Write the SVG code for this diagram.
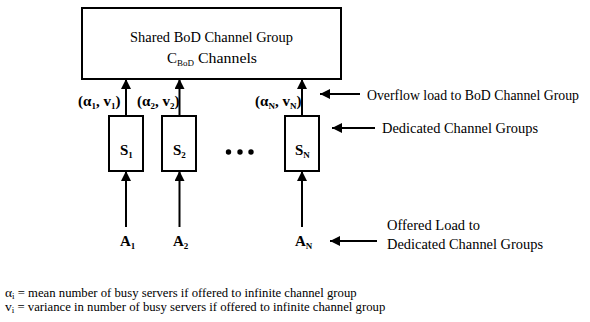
<svg xmlns="http://www.w3.org/2000/svg" width="590" height="322" viewBox="0 0 590 322" font-family="'Liberation Serif', 'Times New Roman', 'DejaVu Serif', serif">
  <style>
    .box { fill: #fff; stroke: #000; stroke-width: 2; }
    .ln { fill: none; stroke: #000; stroke-width: 2; }
    text { fill: #000; }
    .t { font-size: 15px; }
    .lg { font-size: 13.5px; }
    .b { font-size: 15px; font-weight: bold; }
    .sub { font-size: 9px; }
  </style>
  <defs>
    <marker id="ah" markerWidth="10" markerHeight="10" refX="10" refY="5" orient="auto" markerUnits="userSpaceOnUse">
      <path d="M0,0 L10,5 L0,10 Z" fill="#000"/>
    </marker>
  </defs>

  <!-- shared channel group -->
  <g id="shared">
    <rect class="box" x="82" y="8" width="259" height="71"/>
    <text class="t" x="211.5" y="42" text-anchor="middle" textLength="163" lengthAdjust="spacingAndGlyphs">Shared BoD Channel Group</text>
    <text class="t" x="167" y="63">C<tspan class="sub" dy="3">BoD</tspan><tspan dy="-3" textLength="63" lengthAdjust="spacingAndGlyphs"> Channels</tspan></text>
  </g>

  <!-- dedicated groups -->
  <g id="s1">
    <rect class="box" x="109" y="116" width="34" height="55"/>
    <text class="b" x="120" y="155">S<tspan class="sub" dy="3">1</tspan></text>
  </g>
  <g id="s2">
    <rect class="box" x="162" y="116" width="34" height="55"/>
    <text class="b" x="173" y="155">S<tspan class="sub" dy="3">2</tspan></text>
  </g>
  <g id="sn">
    <rect class="box" x="285" y="116" width="34" height="55"/>
    <text class="b" x="295" y="155">S<tspan class="sub" dy="3">N</tspan></text>
  </g>
  <g id="dots">
    <circle cx="228.5" cy="152" r="2.7"/>
    <circle cx="240" cy="152" r="2.7"/>
    <circle cx="251" cy="152" r="2.7"/>
  </g>

  <!-- offered loads -->
  <g id="a1"><text class="b" x="120" y="246">A<tspan class="sub" dy="3">1</tspan></text></g>
  <g id="a2"><text class="b" x="173" y="246">A<tspan class="sub" dy="3">2</tspan></text></g>
  <g id="an"><text class="b" x="295" y="246">A<tspan class="sub" dy="3">N</tspan></text></g>

  <!-- overflow parameters -->
  <g id="ov1"><text class="b" x="78" y="106">(α<tspan class="sub" dy="3">1</tspan><tspan dy="-3">, v</tspan><tspan class="sub" dy="3">1</tspan><tspan dy="-3">)</tspan></text></g>
  <g id="ov2"><text class="b" x="137" y="106">(α<tspan class="sub" dy="3">2</tspan><tspan dy="-3">, v</tspan><tspan class="sub" dy="3">2</tspan><tspan dy="-3">)</tspan></text></g>
  <g id="ovn"><text class="b" x="255" y="106">(α<tspan class="sub" dy="3">N</tspan><tspan dy="-3">, v</tspan><tspan class="sub" dy="3">N</tspan><tspan dy="-3">)</tspan></text></g>

  <!-- annotations -->
  <g id="note-overflow"><text class="t" x="367" y="100" font-size="13.5" textLength="212" lengthAdjust="spacingAndGlyphs">Overflow load to BoD Channel Group</text></g>
  <g id="note-dedicated"><text class="t" x="382" y="133" textLength="156" lengthAdjust="spacingAndGlyphs">Dedicated Channel Groups</text></g>
  <g id="note-offered">
    <text class="t" x="387" y="230" textLength="93" lengthAdjust="spacingAndGlyphs">Offered Load to</text>
    <text class="t" x="387" y="249" textLength="156" lengthAdjust="spacingAndGlyphs">Dedicated Channel Groups</text>
  </g>

  <!-- legend -->
  <g id="legend">
    <text class="lg" x="5" y="297">α<tspan class="sub" dy="2">i</tspan><tspan dy="-2" textLength="342" lengthAdjust="spacingAndGlyphs"> = mean number of busy servers if offered to infinite channel group</tspan></text>
    <text class="lg" x="5" y="311">v<tspan class="sub" dy="2">i</tspan><tspan dy="-2" textLength="371" lengthAdjust="spacingAndGlyphs"> = variance in number of busy servers if offered to infinite channel group</tspan></text>
  </g>

  <!-- connectors -->
  <g id="connectors">
    <line class="ln" x1="126" y1="227" x2="126" y2="171" marker-end="url(#ah)"/>
    <line class="ln" x1="179.5" y1="227" x2="179.5" y2="171" marker-end="url(#ah)"/>
    <line class="ln" x1="302" y1="227" x2="302" y2="171" marker-end="url(#ah)"/>
    <line class="ln" x1="126" y1="116" x2="126" y2="79" marker-end="url(#ah)"/>
    <line class="ln" x1="179.5" y1="116" x2="179.5" y2="79" marker-end="url(#ah)"/>
    <line class="ln" x1="302" y1="116" x2="302" y2="79" marker-end="url(#ah)"/>
    <line class="ln" x1="360" y1="94" x2="320" y2="94" marker-end="url(#ah)"/>
    <line class="ln" x1="375" y1="128" x2="332" y2="128" marker-end="url(#ah)"/>
    <line class="ln" x1="377" y1="241" x2="330" y2="241" marker-end="url(#ah)"/>
  </g>
</svg>
